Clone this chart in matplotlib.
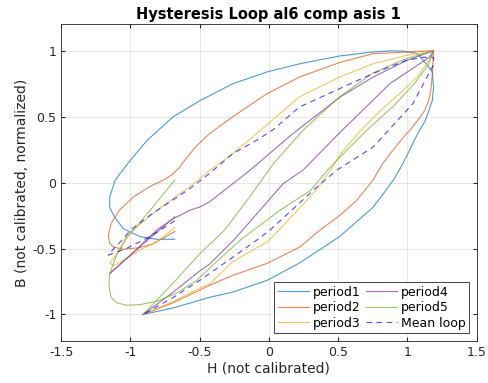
import matplotlib
matplotlib.use('Agg')
from matplotlib import pyplot as plt

# period1
H1 = [-0.68, -0.81, -0.93, -1.05, -1.11, -1.15, -1.15, -1.11, -1.00, -0.88, -0.69, -0.50, -0.26, -0.01,
      0.22, 0.51, 0.75, 0.90, 0.98, 1.07, 1.13, 1.18, 1.19, 1.18, 1.13, 1.09, 1.05, 1.00, 0.95, 0.90,
      0.83, 0.75, 0.51, 0.22, -0.01, -0.26, -0.43, -0.69, -0.91]
B1 = [-0.43, -0.43, -0.41, -0.35, -0.27, -0.19, -0.11, 0.02, 0.17, 0.32, 0.50, 0.62, 0.75, 0.84,
      0.90, 0.96, 0.99, 1.00, 0.995, 0.98, 0.91, 0.84, 0.72, 0.62, 0.47, 0.40, 0.32, 0.21, 0.11, 0.02,
      -0.08, -0.19, -0.41, -0.61, -0.74, -0.83, -0.87, -0.95, -1.00]

# period2
H2 = [-0.68, -0.76, -0.85, -0.95, -1.05, -1.12, -1.15, -1.16, -1.14, -1.08, -0.98, -0.86, -0.76, -0.70,
      -0.65, -0.60, -0.53, -0.43, -0.26, -0.02, 0.22, 0.51, 0.75, 0.99, 1.19, 1.18, 1.17, 1.155, 1.126,
      1.076, 1.018, 0.953, 0.895, 0.823, 0.751, 0.635, 0.513, 0.368, 0.224, -0.017, -0.258, -0.43,
      -0.69, -0.91]
B2 = [-0.37, -0.42, -0.47, -0.495, -0.505, -0.49, -0.46, -0.40, -0.31, -0.21, -0.11, -0.03, 0.02, 0.06,
      0.11, 0.18, 0.27, 0.37, 0.50, 0.67, 0.80, 0.91, 0.977, 0.99, 1.00, 0.81, 0.70, 0.623, 0.548,
      0.472, 0.396, 0.32, 0.245, 0.146, 0.017, -0.134, -0.248, -0.361, -0.488, -0.614, -0.702, -0.78,
      -0.91, -1.00]

# period3
H3 = [-0.68, -0.81, -0.93, -1.05, -1.12, -1.15, -1.11, -1.03, -0.98, -0.81, -0.57, -0.43, -0.26, -0.09,
      0.22, 0.51, 0.75, 0.99, 1.19, 1.16, 1.07, 0.95, 0.80, 0.64, 0.52, 0.44, 0.34, 0.18, 0.00, -0.26,
      -0.43, -0.50, -0.69, -0.91]
B3 = [-0.34, -0.45, -0.51, -0.59, -0.63, -0.61, -0.56, -0.41, -0.36, -0.21, -0.03, 0.09, 0.22, 0.37,
      0.65, 0.80, 0.90, 0.964, 1.00, 0.93, 0.80, 0.68, 0.54, 0.37, 0.22, 0.09, -0.06, -0.24, -0.44, -0.60,
      -0.77, -0.80, -0.90, -1.00]

# period4
H4 = [-0.68, -0.92, -1.15, -0.98, -0.81, -0.69, -0.57, -0.50, -0.43, -0.137, 0.16, 0.513, 0.753, 0.994,
      1.19, 1.16, 0.874, 0.513, 0.245, 0.103, -0.19, -0.258, -0.43, -0.50, -0.69, -0.91]
B4 = [-0.26, -0.475, -0.69, -0.53, -0.36, -0.273, -0.21, -0.185, -0.147, 0.093, 0.36, 0.648, 0.80, 0.926,
      1.00, 0.951, 0.75, 0.38, 0.093, -0.008, -0.36, -0.44, -0.62, -0.67, -0.83, -1.00]

# period5
H5 = [-0.68, -0.85, -1.02, -1.10, -1.15, -1.155, -1.14, -1.10, -1.03, -0.93, -0.81, -0.67, -0.52, -0.40,
      -0.20, 0.08, 0.30, 0.42, 0.51, 0.71, 0.90, 1.05, 1.15, 1.19, 0.99, 0.75, 0.51, 0.25, 0.03, -0.14,
      -0.32, -0.50, -0.69, -0.91]
B5 = [0.02, -0.20, -0.41, -0.55, -0.69, -0.79, -0.87, -0.91, -0.93, -0.925, -0.90, -0.84, -0.74, -0.62,
      -0.43, -0.21, -0.06, 0.09, 0.19, 0.40, 0.58, 0.75, 0.89, 1.00, 0.94, 0.83, 0.65, 0.40, 0.14, -0.11,
      -0.36, -0.54, -0.76, -1.00]

# mean loop
Hm = [-0.68, -0.86, -1.03, -1.12, -1.16, -1.12, -1.05, -1.00, -0.86, -0.715, -0.57, -0.43, -0.26, -0.09,
      0.03, 0.22, 0.51, 0.75, 0.99, 1.115, 1.19, 1.187, 1.04, 0.753, 0.489, 0.34, 0.007, -0.089, -0.258,
      -0.498, -0.69, -0.91]
Bm = [-0.29, -0.41, -0.50, -0.535, -0.55, -0.50, -0.424, -0.361, -0.248, -0.147, -0.045, 0.068, 0.22, 0.32,
      0.40, 0.573, 0.712, 0.826, 0.926, 0.95, 0.95, 0.889, 0.598, 0.27, 0.093, -0.04, -0.361, -0.437, -0.564,
      -0.74, -0.87, -1.00]

nomes = ['period1', 'period2', 'period3', 'period4', 'period5']
cores = ['#0072BD', '#D95319', '#EDB120', '#7E2F8E', '#77AC30']

fig = plt.figure(figsize=(4.88, 3.83), dpi=100)
ax = fig.add_axes([0.1255, 0.110, 0.851, 0.8265])

dados = [(H1, B1), (H2, B2), (H3, B3), (H4, B4), (H5, B5)]
for (h, b), nome, cor in zip(dados, nomes, cores):
    ax.plot(h, b, color=cor, lw=0.8, alpha=0.7, label=nome)
ax.plot(Hm, Bm, '--', color='#0000FF', lw=0.8, alpha=0.7, dashes=(5, 4), label='Mean loop')

ax.set_xlim(-1.5, 1.5)
ax.set_ylim(-1.2, 1.2)
ax.set_xticks([-1.5, -1, -0.5, 0, 0.5, 1, 1.5])
ax.set_xticklabels(['-1.5', '-1', '-0.5', '0', '0.5', '1', '1.5'])
ax.set_yticks([-1, -0.5, 0, 0.5, 1])
ax.set_yticklabels(['-1', '-0.5', '0', '0.5', '1'])
ax.tick_params(direction='in', top=True, right=True, labelsize=9, colors='#262626', length=3)
ax.grid(True, color='#262626', alpha=0.12, lw=0.6)
for s in ax.spines.values():
    s.set_color('#262626')
    s.set_linewidth(0.6)

ax.set_title('Hysteresis Loop al6 comp asis 1', fontsize=10.5, fontweight='bold', pad=4)
ax.set_xlabel('H (not calibrated)', fontsize=10, color='#262626', labelpad=2)
ax.set_ylabel('B (not calibrated, normalized)', fontsize=10, color='#262626', labelpad=2)

leg = ax.legend(loc='lower right', ncol=2, fontsize=9, fancybox=False, framealpha=1,
                edgecolor='#262626', handlelength=2.5, columnspacing=0.4, handletextpad=0.3,
                borderpad=0.3, labelspacing=0.2, borderaxespad=0.6)
leg.get_frame().set_linewidth(0.6)

plt.savefig('out.png', dpi=100)
